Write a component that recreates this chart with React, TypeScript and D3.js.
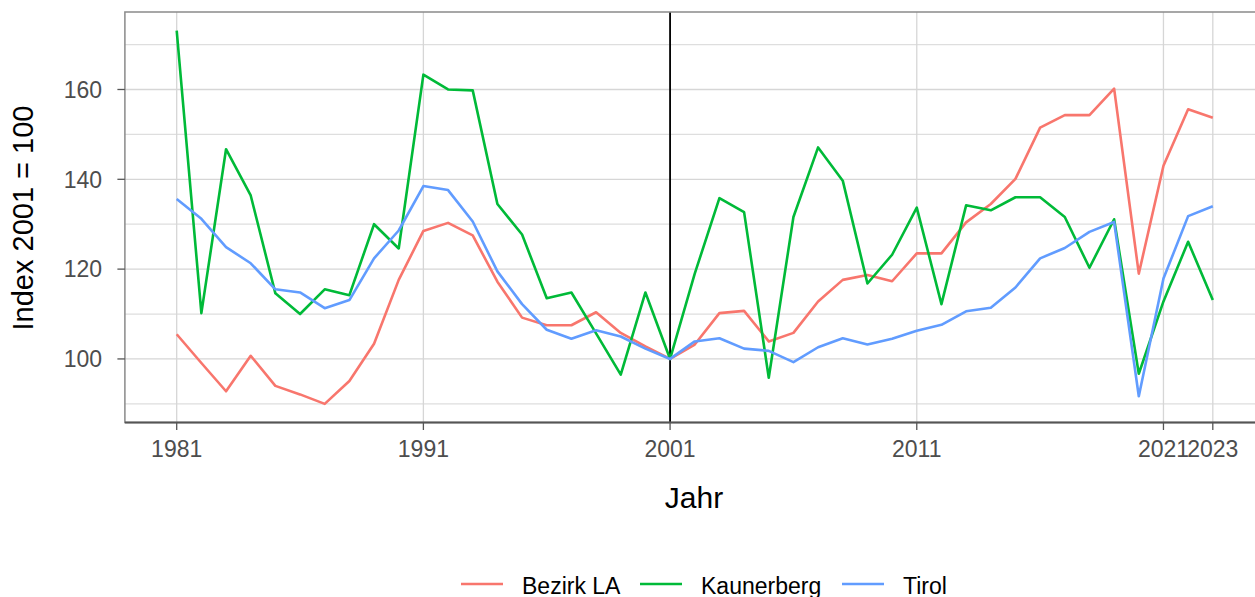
import * as d3 from "d3";
import React, { useEffect, useRef } from "react";

// Jahre 1981..2023
const years = d3.range(1981, 2024);

const bezirkLA = [
  105.5, 99.1, 92.8, 100.7, 94.0, 92.1, 90.0, 95.1, 103.4, 117.6,
  128.5, 130.3, 127.5, 117.2, 109.2, 107.5, 107.5, 110.4, 105.8, 102.8,
  100.0, 103.2, 110.2, 110.7, 103.9, 105.8, 112.8, 117.6, 118.7, 117.3,
  123.5, 123.5, 130.4, 134.5, 140.1, 151.5, 154.3, 154.3, 160.2, 119.0,
  143.0, 155.6, 153.7,
];

const kaunerberg = [
  173.1, 110.2, 146.7, 136.4, 114.6, 110.0, 115.5, 114.2, 130.0, 124.6,
  163.3, 160.0, 159.8, 134.5, 127.7, 113.5, 114.8, 105.7, 96.5, 114.8,
  100.0, 119.0, 135.8, 132.7, 95.8, 131.6, 147.1, 139.7, 116.8, 123.2,
  133.7, 112.2, 134.2, 133.1, 136.0, 136.0, 131.6, 120.3, 131.1, 96.7,
  112.8, 126.1, 113.1,
];

const tirol = [
  135.6, 131.2, 124.9, 121.3, 115.5, 114.8, 111.3, 113.1, 122.4, 128.6,
  138.5, 137.6, 130.6, 119.5, 112.2, 106.5, 104.5, 106.4, 105.0, 102.3,
  100.0, 103.9, 104.6, 102.3, 101.8, 99.3, 102.6, 104.6, 103.2, 104.5,
  106.3, 107.6, 110.6, 111.4, 115.9, 122.4, 124.7, 128.3, 130.5, 91.7,
  117.9, 131.8, 134.0,
];

const seriesNames = ["Bezirk LA", "Kaunerberg", "Tirol"];
const seriesColors = ["#F8766D", "#00BA38", "#619CFF"];
const xBreaks = [1981, 1991, 2001, 2011, 2021, 2023];
const yBreaks = [100, 120, 140, 160];
const yMinor = [90, 110, 130, 150, 170];

const App = () => {
  const svgRef = useRef(null);
  const width = 1255;
  const height = 597;

  useEffect(() => {
    const svg = d3.select(svgRef.current);
    svg.selectAll("*").remove();

    const x = d3.scaleLinear().domain([1981, 2023]).range([176.7, 1212.8]);
    const all = [...bezirkLA, ...kaunerberg, ...tirol];
    const lo = d3.min(all), hi = d3.max(all);
    const pad = (hi - lo) * 0.05;
    const y = d3.scaleLinear().domain([lo - pad, hi + pad]).range([422.5, 12]);

    const left = x(1978.9);
    const right = x(2025.1);
    const top = 12;
    const bottom = 422.5;

    const grid = svg.append("g");
    grid.selectAll(".ymin").data(yMinor).enter().append("line")
      .attr("x1", left).attr("x2", right)
      .attr("y1", (d) => y(d)).attr("y2", (d) => y(d))
      .attr("stroke", "#dedede").attr("stroke-width", 1.3);
    grid.selectAll(".ymaj").data(yBreaks).enter().append("line")
      .attr("x1", left).attr("x2", right)
      .attr("y1", (d) => y(d)).attr("y2", (d) => y(d))
      .attr("stroke", "#d6d6d6").attr("stroke-width", 1.3);
    grid.selectAll(".xmaj").data(xBreaks).enter().append("line")
      .attr("x1", (d) => x(d)).attr("x2", (d) => x(d))
      .attr("y1", top).attr("y2", bottom)
      .attr("stroke", "#d6d6d6").attr("stroke-width", 1.3);

    // Referenzjahr
    svg.append("line")
      .attr("x1", x(2001)).attr("x2", x(2001))
      .attr("y1", top).attr("y2", bottom)
      .attr("stroke", "black").attr("stroke-width", 1.8);

    const line = d3.line()
      .x((d, i) => x(years[i]))
      .y((d) => y(d));

    [bezirkLA, kaunerberg, tirol].forEach((s, i) => {
      svg.append("path")
        .datum(s)
        .attr("d", line)
        .attr("fill", "none")
        .attr("stroke", seriesColors[i])
        .attr("stroke-width", 2.6)
        .attr("stroke-linejoin", "round");
    });

    // Rahmen
    svg.append("rect")
      .attr("x", left).attr("y", top)
      .attr("width", right - left).attr("height", bottom - top)
      .attr("fill", "none").attr("stroke", "#8a8a8a").attr("stroke-width", 1.5);
    svg.append("line")
      .attr("x1", left).attr("x2", right)
      .attr("y1", bottom).attr("y2", bottom)
      .attr("stroke", "#555").attr("stroke-width", 2);

    const font = "Arial, 'Liberation Sans', sans-serif";

    // x-Achse
    const xAx = svg.append("g");
    xAx.selectAll("line").data(xBreaks).enter().append("line")
      .attr("x1", (d) => x(d)).attr("x2", (d) => x(d))
      .attr("y1", bottom).attr("y2", bottom + 7.5)
      .attr("stroke", "#555").attr("stroke-width", 1.3);
    xAx.selectAll("text").data(xBreaks).enter().append("text")
      .attr("x", (d) => x(d)).attr("y", 456.5)
      .attr("text-anchor", "middle")
      .style("font", `23px ${font}`).attr("fill", "#4d4d4d")
      .text((d) => d);

    // y-Achse
    const yAx = svg.append("g");
    yAx.selectAll("line").data(yBreaks).enter().append("line")
      .attr("x1", left - 7.5).attr("x2", left)
      .attr("y1", (d) => y(d)).attr("y2", (d) => y(d))
      .attr("stroke", "#555").attr("stroke-width", 1.3);
    yAx.selectAll("text").data(yBreaks).enter().append("text")
      .attr("x", 102).attr("y", (d) => y(d) + 8.2)
      .attr("text-anchor", "end")
      .style("font", `23px ${font}`).attr("fill", "#4d4d4d")
      .text((d) => d);

    svg.append("text")
      .attr("transform", "translate(33,218) rotate(-90)")
      .attr("text-anchor", "middle")
      .style("font", `29px ${font}`).attr("fill", "black")
      .text("Index 2001 = 100");

    svg.append("text")
      .attr("x", 694).attr("y", 507.5)
      .attr("text-anchor", "middle")
      .style("font", `30px ${font}`).attr("fill", "black")
      .text("Jahr");

    // Legende
    const keyX = [461, 640, 842];
    const leg = svg.append("g");
    seriesNames.forEach((n, i) => {
      leg.append("line")
        .attr("x1", keyX[i]).attr("x2", keyX[i] + 42)
        .attr("y1", 584).attr("y2", 584)
        .attr("stroke", seriesColors[i]).attr("stroke-width", 2.6);
      leg.append("text")
        .attr("x", keyX[i] + 61).attr("y", 593.5)
        .style("font", `23px ${font}`).attr("fill", "black")
        .text(n);
    });
  }, []);

  return <svg ref={svgRef} width={width} height={height} style={{ display: "block", position: "absolute", left: 0, top: 0 }} />;
};

export default App;
